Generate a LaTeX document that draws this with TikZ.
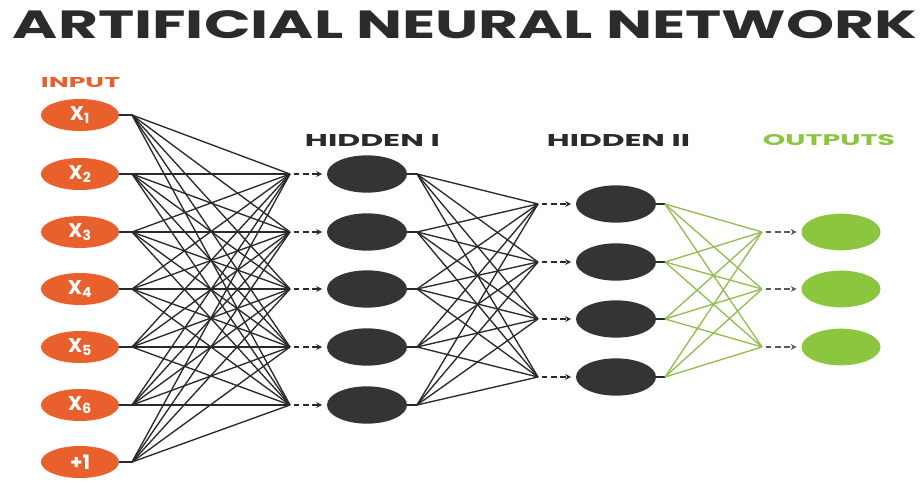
\documentclass[tikz,border=0pt]{standalone}
\usepackage{fontspec}
\setmainfont{Poppins}
\usepackage{graphicx}
\usetikzlibrary{shapes.geometric,arrows.meta}
\definecolor{annorange}{HTML}{E8612C}
\definecolor{anndark}{HTML}{333535}
\definecolor{anngreen}{HTML}{8CC63F}
\definecolor{annline}{HTML}{2A2A2A}
\definecolor{anngline}{HTML}{93BF50}
\definecolor{anntitle}{HTML}{2B2B2B}
\begin{document}
\begin{tikzpicture}[x=0.03cm,y=-0.03cm,
  inp/.style={ellipse, fill=annorange, minimum width=2.34cm, minimum height=0.96cm, inner sep=0pt, text=white, font=\bfseries\fontsize{17}{17}\selectfont},
  hid/.style={ellipse, fill=anndark, minimum width=2.4cm, minimum height=1.12cm, inner sep=0pt},
  outn/.style={ellipse, fill=anngreen, minimum width=2.37cm, minimum height=1.1cm, inner sep=0pt},
  lbl/.style={inner sep=0pt, anchor=center},
  wire/.style={annline, line width=1.15pt},
  gwire/.style={anngline, line width=1.15pt},
  stub/.style={annline, line width=1.4pt},
  feed/.style={annline, line width=1.1pt, dash pattern=on 5pt off 3pt, shorten <=3pt, shorten >=4pt, -{Stealth[length=5pt,width=5pt]}},
  gfeed/.style={feed, draw=gray!70!black}
]
\useasboundingbox (0,0) rectangle (923,483);
\fill[white] (0,0) rectangle (923,483);

% labels
\node[lbl, text=anntitle] (title) at (465,25) {\resizebox{27.12cm}{0.84cm}{\bfseries ARTIFICIAL NEURAL NETWORK}};
\node[lbl, text=annorange] (linput) at (80.5,83) {\resizebox{2.37cm}{0.30cm}{\bfseries INPUT}};
\node[lbl, text=anntitle] (lh1) at (372.5,141) {\resizebox{4.05cm}{0.36cm}{\bfseries HIDDEN I}};
\node[lbl, text=anntitle] (lh2) at (618.5,141) {\resizebox{4.29cm}{0.36cm}{\bfseries HIDDEN II}};
\node[lbl, text=anngreen] (lout) at (829,140.5) {\resizebox{3.96cm}{0.33cm}{\bfseries OUTPUTS}};

% input nodes
\node[inp] (in1) at (80,115) {X\textsubscript{1}};
\node[inp] (in2) at (80,174) {X\textsubscript{2}};
\node[inp] (in3) at (80,232) {X\textsubscript{3}};
\node[inp] (in4) at (80,289) {X\textsubscript{4}};
\node[inp] (in5) at (80,347) {X\textsubscript{5}};
\node[inp] (in6) at (80,405) {X\textsubscript{6}};
\node[inp] (in7) at (80,462) {+1};

% hidden I
\foreach \j/\y in {1/174,2/232,3/289,4/347,5/405} {
  \node[hid] (h\j) at (367,\y) {};
  \coordinate (ha\j) at (290,\y);
  \coordinate (hb\j) at (417,\y);
}
% hidden II
\foreach \k/\y in {1/204,2/262,3/319,4/377} {
  \node[hid] (g\k) at (616,\y) {};
  \coordinate (hc\k) at (538,\y);
  \coordinate (gb\k) at (665,\y);
}
% outputs
\foreach \m/\y in {1/232,2/289,3/347} {
  \node[outn] (o\m) at (841,\y) {};
  \coordinate (oc\m) at (762,\y);
}
% input fan starts
\foreach \i/\y in {1/115,2/174,3/232,4/289,5/347,6/405,7/462} {
  \coordinate (ia\i) at (132,\y);
  \draw[stub] (in\i.east) -- (ia\i);
}

% input -> hidden I
\foreach \i in {1,...,7} {
  \foreach \j in {1,...,5} {
    \draw[wire] (ia\i) -- (ha\j);
  }
}
\foreach \j in {1,...,5} {
  \draw[feed] (ha\j) -- (h\j.west);
  \draw[stub] (h\j.east) -- (hb\j);
}
% hidden I -> hidden II
\foreach \j in {1,...,5} {
  \foreach \k in {1,...,4} {
    \draw[wire] (hb\j) -- (hc\k);
  }
}
\foreach \k in {1,...,4} {
  \draw[feed] (hc\k) -- (g\k.west);
  \draw[stub] (g\k.east) -- (gb\k);
}
% hidden II -> outputs
\foreach \k in {1,...,4} {
  \foreach \m in {1,...,3} {
    \draw[gwire] (gb\k) -- (oc\m);
  }
}
\foreach \m in {1,...,3} {
  \draw[gfeed] (oc\m) -- (o\m.west);
}
\end{tikzpicture}
\end{document}
